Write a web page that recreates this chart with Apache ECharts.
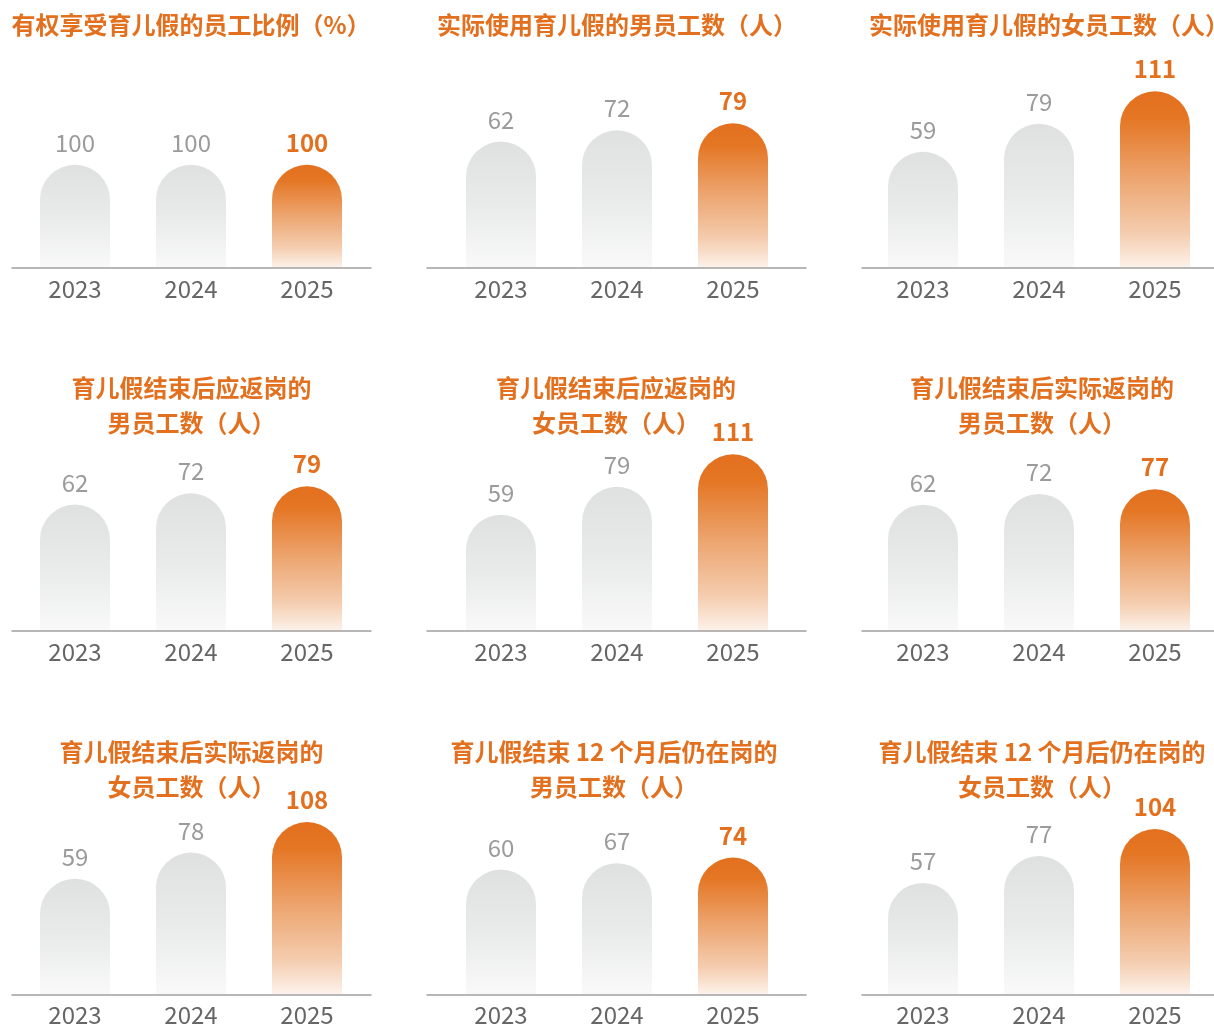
<!DOCTYPE html>
<html>
<head>
<meta charset="utf-8">
<script src="https://cdn.jsdelivr.net/npm/echarts@6/dist/echarts.min.js"></script>
<style>
html,body{margin:0;padding:0;background:#fff;}
#c{width:1214px;height:1027px;}
</style>
</head>
<body>
<div id="c"></div>
<script>
// ---------- data ----------
const years = ['2023', '2024', '2025'];
const titleTexts = [
  '有权享受育儿假的员工比例（%）',
  '实际使用育儿假的男员工数（人）',
  '实际使用育儿假的女员工数（人）',
  '育儿假结束后应返岗的\n男员工数（人）',
  '育儿假结束后应返岗的\n女员工数（人）',
  '育儿假结束后实际返岗的\n男员工数（人）',
  '育儿假结束后实际返岗的\n女员工数（人）',
  '育儿假结束 12 个月后仍在岗的\n男员工数（人）',
  '育儿假结束 12 个月后仍在岗的\n女员工数（人）'
];
const entitledPct = [100, 100, 100];
const maleUsed = [62, 72, 79];
const femaleUsed = [59, 79, 111];
const maleDueReturn = [62, 72, 79];
const femaleDueReturn = [59, 79, 111];
const maleReturned = [62, 72, 77];
const femaleReturned = [59, 78, 108];
const maleRetained12m = [60, 67, 74];
const femaleRetained12m = [57, 77, 104];
const panels = [entitledPct, maleUsed, femaleUsed, maleDueReturn, femaleDueReturn,
                maleReturned, femaleReturned, maleRetained12m, femaleRetained12m];

// per-panel (log) value-axis ranges
const axisMin = [10, 11.7, 17.6, 11.7, 17.6, 10.7, 17.2, 6.8, 16.5];
const axisMax = [876, 164.6, 141.9, 164.6, 141.9, 173.9, 145.3, 223.4, 153.3];

// ---------- layout / style ----------
const FONT = '"Noto Sans CJK SC", "Noto Sans", sans-serif';
const ORANGE = '#E3701E';
const BAR_W = 70;
const GRID_H = 200;
const colBarLeft = [17, 443, 865];
const bandSpan = 348;
const lineLeft = [12, 427, 862];
const lineWidth = [359, 379, 352];
const rowBase = [267.7, 630.7, 994.3];
const titleTop = [7.5, 370.8, 734.2];
const titleCx = [[191, 617, 1049], [191.5, 616, 1042], [191.5, 614, 1042]];

function grayGrad() {
  return { type: 'linear', x: 0, y: 0, x2: 0, y2: 1,
    colorStops: [{ offset: 0, color: '#dfe0e0' }, { offset: 0.5, color: '#e9eaea' }, { offset: 1, color: '#f9f9f9' }] };
}
function orangeGrad() {
  return { type: 'linear', x: 0, y: 0, x2: 0, y2: 1,
    colorStops: [
      { offset: 0, color: '#E3701E' },
      { offset: 0.15, color: '#E47624' },
      { offset: 0.5, color: '#EDA671' },
      { offset: 0.8, color: '#F4CCAE' },
      { offset: 1, color: '#FDF2EA' }
    ] };
}

const grid = [], xAxis = [], yAxis = [], series = [], title = [];
panels.forEach((vals, i) => {
  const r = Math.floor(i / 3), c = i % 3;
  const top = rowBase[r] - GRID_H;
  const gi = grid.length;
  grid.push({ left: colBarLeft[c], width: bandSpan, top: top, height: GRID_H });
  grid.push({ left: lineLeft[c], width: lineWidth[c], top: top, height: GRID_H });
  xAxis.push({
    type: 'category', gridIndex: gi, data: years,
    axisLine: { show: false }, axisTick: { show: false },
    axisLabel: { color: '#666666', fontSize: 24, margin: 9, fontFamily: FONT }
  });
  yAxis.push({ type: 'log', gridIndex: gi, min: axisMin[i], max: axisMax[i], show: false });
  xAxis.push({
    type: 'value', gridIndex: gi + 1, min: 0, max: 1, z: 5,
    axisLine: { show: true, onZero: false, lineStyle: { color: '#a0a0a0', width: 1.5 } },
    axisTick: { show: false }, axisLabel: { show: false }, splitLine: { show: false }
  });
  yAxis.push({ type: 'value', gridIndex: gi + 1, min: 0, max: 1, show: false });

  series.push({
    type: 'custom',
    xAxisIndex: gi, yAxisIndex: gi,
    z: 2,
    clip: false,
    data: vals.map((v, j) => [j, v]),
    renderItem: function (params, api) {
      const j = api.value(0), v = api.value(1);
      const p = api.coord([j, v]);
      const cs = params.coordSys;
      const base = cs.y + cs.height;
      const hi = j === years.length - 1;
      return {
        type: 'group',
        children: [
          {
            type: 'rect',
            shape: { x: p[0] - BAR_W / 2, y: p[1], width: BAR_W, height: base - p[1], r: [BAR_W / 2, BAR_W / 2, 0, 0] },
            style: { fill: hi ? orangeGrad() : grayGrad() }
          },
          {
            type: 'text',
            style: {
              text: String(v), x: p[0], y: p[1] - 10,
              align: 'center', verticalAlign: 'bottom',
              fill: hi ? ORANGE : '#9b9b9b',
              fontSize: 24, fontWeight: hi ? 'bold' : 'normal', fontFamily: FONT
            }
          }
        ]
      };
    }
  });

  title.push({
    text: titleTexts[i],
    left: titleCx[r][c], top: titleTop[r],
    textAlign: 'center', padding: 0,
    textStyle: { color: ORANGE, fontSize: 24, fontWeight: 'bold', lineHeight: 35, fontFamily: FONT }
  });
});

const chart = echarts.init(document.getElementById('c'), null, { renderer: 'canvas' });
chart.setOption({
  backgroundColor: '#ffffff',
  animation: false,
  textStyle: { fontFamily: FONT },
  title: title,
  grid: grid,
  xAxis: xAxis,
  yAxis: yAxis,
  series: series
});
</script>
</body>
</html>
